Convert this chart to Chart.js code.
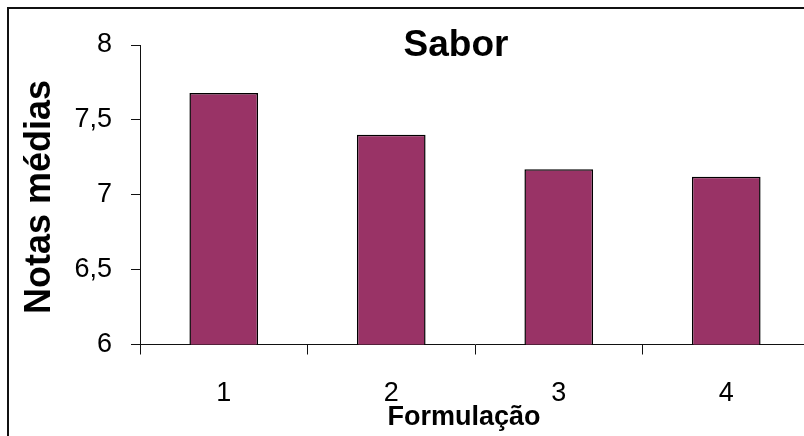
<!DOCTYPE html>
<html>
<head>
<meta charset="utf-8">
<script src="https://cdn.jsdelivr.net/npm/chart.js@4/dist/chart.umd.min.js"></script>
<style>
  html, body { margin: 0; padding: 0; background: #fff; width: 804px; height: 436px; overflow: hidden; }
  #wrap { position: relative; width: 812px; height: 436px; }
</style>
</head>
<body>
<div id="wrap"><canvas id="c" width="812" height="436"></canvas></div>
<script>
// Mean taste scores per formulation
const categories = ['1', '2', '3', '4'];
const notasMedias = [7.68, 7.40, 7.17, 7.12];
const yTicks = [6, 6.5, 7, 7.5, 8];

const chartTitle = 'Sabor';
const xTitle = 'Formulação';
const yTitle = 'Notas médias';

const FONT = '"Liberation Sans", Arial, sans-serif';
const INK = '#111';

// White page with a frame around the chart
const framePlugin = {
  id: 'frame',
  beforeDraw(chart) {
    const ctx = chart.ctx;
    ctx.save();
    ctx.fillStyle = '#fff';
    ctx.fillRect(0, 0, chart.width, chart.height);
    ctx.strokeStyle = INK;
    ctx.lineWidth = 2;
    ctx.strokeRect(8, 8, chart.width + 40, chart.height + 40);
    ctx.restore();
  }
};

// Chart title and axis titles
const titlesPlugin = {
  id: 'titles',
  afterDraw(chart) {
    const ctx = chart.ctx;
    ctx.save();
    ctx.fillStyle = '#000';
    ctx.textAlign = 'center';
    ctx.textBaseline = 'middle';
    ctx.font = 'bold 37px ' + FONT;
    ctx.fillText(chartTitle, 456, 46);
    ctx.font = 'bold 27px ' + FONT;
    ctx.fillText(xTitle, 464, 418);
    ctx.translate(40, 197);
    ctx.rotate(-Math.PI / 2);
    ctx.font = 'bold 36px ' + FONT;
    ctx.fillText(yTitle, 0, 0);
    ctx.restore();
  }
};

new Chart(document.getElementById('c'), {
  type: 'bar',
  data: {
    labels: categories,
    datasets: [{
      data: notasMedias,
      backgroundColor: '#993366',
      borderColor: '#000',
      borderWidth: 1.5,
      barPercentage: 0.41,
      categoryPercentage: 1.0
    }]
  },
  options: {
    responsive: false,
    animation: false,
    devicePixelRatio: 1,
    layout: { padding: { left: 0, top: 45, right: 2, bottom: 0 } },
    plugins: { legend: { display: false }, tooltip: { enabled: false } },
    scales: {
      x: {
        grid: { offset: true, drawOnChartArea: false, drawTicks: true, tickLength: 10, color: INK, lineWidth: 1 },
        border: { display: true, color: INK, width: 1 },
        ticks: { color: '#000', font: { family: FONT, size: 27 }, padding: 23, maxRotation: 0 },
        afterFit(scale) { scale.height = 91.5; }
      },
      y: {
        min: 6,
        max: 8,
        grid: { drawOnChartArea: false, drawTicks: true, tickLength: 9, color: INK, lineWidth: 1 },
        border: { display: true, color: INK, width: 1 },
        afterBuildTicks(scale) { scale.ticks = yTicks.map(v => ({ value: v })); },
        ticks: {
          color: '#000',
          font: { family: FONT, size: 27 },
          padding: 19,
          callback: v => String(v).replace('.', ',')
        },
        afterFit(scale) { scale.width = 140; }
      }
    }
  },
  plugins: [framePlugin, titlesPlugin]
});
</script>
</body>
</html>
